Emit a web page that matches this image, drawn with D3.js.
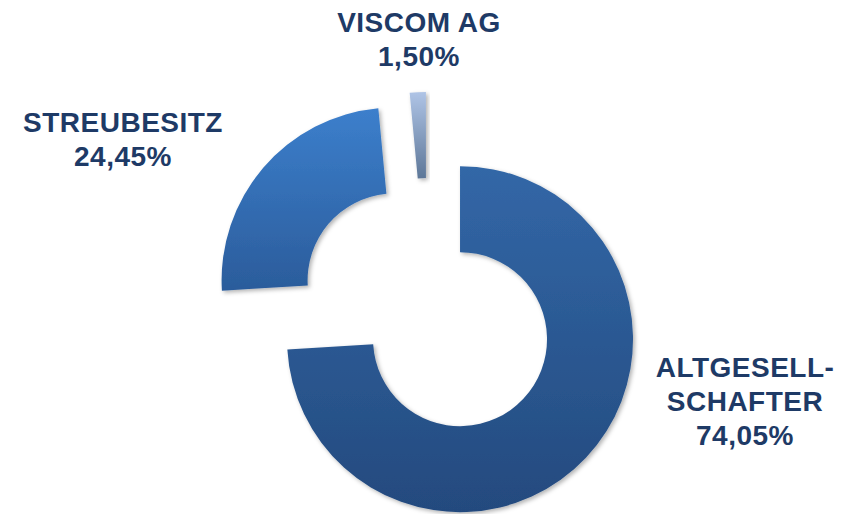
<!DOCTYPE html>
<html>
<head>
<meta charset="utf-8">
<script src="https://cdn.jsdelivr.net/npm/d3@7"></script>
<style>
html,body{margin:0;padding:0;background:#fff;}
svg{display:block;}
</style>
</head>
<body>
<svg id="chart" width="846" height="514"></svg>
<script>
const categories = ["ALTGESELLSCHAFTER", "STREUBESITZ", "VISCOM AG"];
const labelNames = [["ALTGESELL-", "SCHAFTER"], ["STREUBESITZ"], ["VISCOM AG"]];
const values = [74.05, 24.45, 1.50];
const colorsTop = ["#3267a7", "#3c7fcc", "#afc4e6"];
const colorsBottom = ["#244a7e", "#2b5c9b", "#5d7798"];
const labelPos = [[745, 377], [123, 132], [419, 32]];

const W = 846, H = 514;
const cx = 428, cy = 309, R = 173, r = 87, explode = 44;
const svg = d3.select("#chart");
const defs = svg.append("defs");

const f = defs.append("filter").attr("id", "shadow").attr("x", "-20%").attr("y", "-20%").attr("width", "140%").attr("height", "140%");
f.append("feDropShadow").attr("dx", 2).attr("dy", 2).attr("stdDeviation", 2)
  .attr("flood-color", "#000").attr("flood-opacity", 0.3);

categories.forEach((c, i) => {
  const g = defs.append("linearGradient").attr("id", "grad" + i)
    .attr("x1", 0).attr("y1", 0).attr("x2", 0).attr("y2", 1);
  g.append("stop").attr("offset", "0%").attr("stop-color", colorsTop[i]);
  g.append("stop").attr("offset", "100%").attr("stop-color", colorsBottom[i]);
});

const pie = d3.pie().sort(null).value(d => d)(values);
const arc = d3.arc().innerRadius(r).outerRadius(R);

const root = svg.append("g").attr("transform", `translate(${cx},${cy})`);
root.selectAll("path").data(pie).join("path")
  .attr("d", arc)
  .attr("fill", (d, i) => `url(#grad${i})`)
  .attr("filter", "url(#shadow)")
  .attr("transform", d => {
    const a = (d.startAngle + d.endAngle) / 2;
    return `translate(${explode * Math.sin(a)},${-explode * Math.cos(a)})`;
  });

const fmt = v => d3.format(".2f")(v).replace(".", ",") + "%";
categories.forEach((c, i) => {
  const lines = labelNames[i].concat([fmt(values[i])]);
  const t = svg.append("text")
    .attr("text-anchor", "middle")
    .attr("font-family", "'Liberation Sans', Arial, sans-serif")
    .attr("font-weight", "bold")
    .attr("font-size", 28)
    .attr("letter-spacing", "0.5px")
    .attr("fill", "#1e3a66");
  lines.forEach((l, k) => {
    t.append("tspan").attr("x", labelPos[i][0]).attr("y", labelPos[i][1] + k * 34).text(l);
  });
});
</script>
</body>
</html>
